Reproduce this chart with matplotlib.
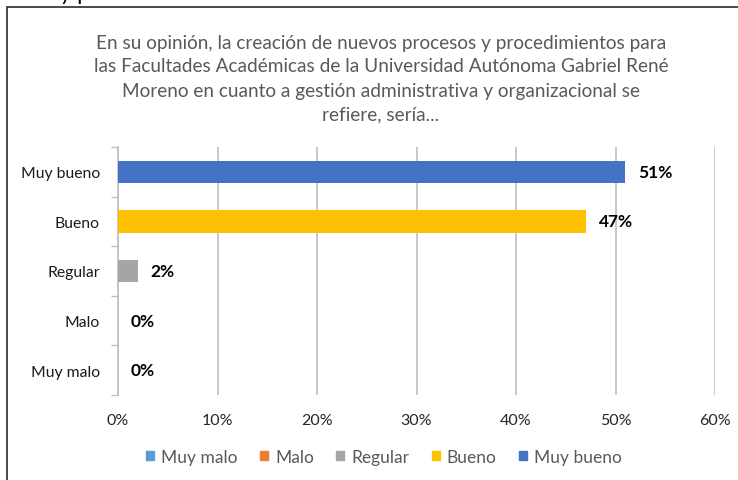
import matplotlib.pyplot as plt
from matplotlib.patches import Rectangle
from matplotlib.ticker import FuncFormatter, FixedLocator

plt.rcParams['font.family'] = ['Lato', 'DejaVu Sans']

categories = ['Muy malo', 'Malo', 'Regular', 'Bueno', 'Muy bueno']
values = [0, 0, 2, 47, 51]
colors = ['#5B9BD5', '#ED7D31', '#A5A5A5', '#FFC000', '#4472C4']
title = ("En su opinión, la creación de nuevos procesos y procedimientos para\n"
         "las Facultades Académicas de la Universidad Autónoma Gabriel René\n"
         "Moreno en cuanto a gestión administrativa y organizacional se\n"
         "refiere, sería...")
xticks = [0, 10, 20, 30, 40, 50, 60]

fig = plt.figure(figsize=(7.38, 4.81), dpi=100)
ax = fig.add_axes([118 / 738, 1 - 396 / 481, (715 - 118) / 738, (396 - 148) / 481])

# cut-off text of the page above the chart
fig.text(0.0, 1.012, "cesos y procedimientos en las Facultades Académicas de la Universidad Autónoma Gabriel René Moreno",
         fontsize=16, color='black', va='center', ha='left')

# chart border
fig.add_artist(Rectangle((7 / 738, -0.05), 1.1, 1.05 - 8 / 481, transform=fig.transFigure,
                         fill=False, edgecolor='#3a3a3a', linewidth=1.3))

ypos = range(len(categories))
ax.barh(ypos, values, height=0.45, color=colors, zorder=3)
for y, v in zip(ypos, values):
    ax.text(v + 1.3, y, f"{v}%", va='center', ha='left', fontsize=12.5,
            fontweight='bold', color='black')

ax.set_xlim(0, 60)
ax.set_ylim(-0.5, 4.5)
ax.set_xticks(xticks)
ax.xaxis.set_major_formatter(FuncFormatter(lambda v, p: f"{v:.0f}%"))
ax.tick_params(axis='x', length=0, pad=13, labelsize=11.5, colors='#262626')
ax.set_yticks(list(ypos))
ax.set_yticklabels(categories)
ax.tick_params(axis='y', which='major', length=0, pad=13, labelsize=11.3, colors='#1a1a1a')
ax.yaxis.set_minor_locator(FixedLocator([-0.5, 0.5, 1.5, 2.5, 3.5, 4.5]))
ax.tick_params(axis='y', which='minor', length=5, color='#BFBFBF', width=1)
ax.grid(axis='x', color='#BFBFBF', linewidth=1.2, zorder=0)
for s in ['top', 'right', 'bottom']:
    ax.spines[s].set_visible(False)
ax.spines['left'].set_color('#BFBFBF')
ax.spines['left'].set_linewidth(1.2)

fig.text(381 / 738, 1 - 79 / 481, title, ha='center', va='center', fontsize=13.7,
         color='#595959', linespacing=1.5)

handles = [Rectangle((0, 0), 1, 1, color=c) for c in colors]
fig.legend(handles, categories, loc='center', bbox_to_anchor=(384 / 738, 1 - 458 / 481),
           ncol=5, frameon=False, fontsize=12.5, handlelength=0.45, handleheight=0.45,
           handletextpad=0.4, columnspacing=1.3, labelcolor='#595959')

fig.savefig('out.png', dpi=100)
